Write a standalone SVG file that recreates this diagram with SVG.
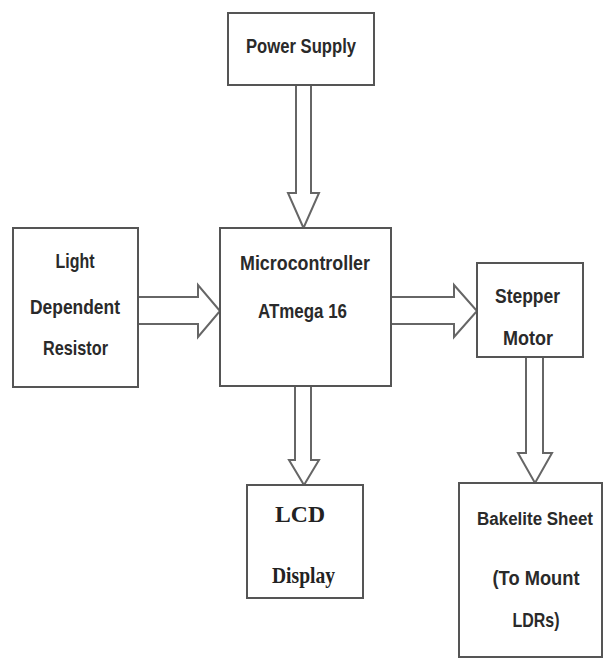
<svg xmlns="http://www.w3.org/2000/svg" width="605" height="659" viewBox="0 0 605 659">
<style>
.box{fill:#fff;stroke:#555;stroke-width:2}
.arr{fill:#fff;stroke:#666;stroke-width:2;stroke-linejoin:miter}
.t{font-family:"Liberation Sans",Arial,sans-serif;font-size:21px;font-weight:bold;fill:#2a2a2a;text-anchor:middle}
.s{font-family:"Liberation Serif","Times New Roman",serif;font-size:24px;font-weight:bold;fill:#222;text-anchor:middle}
</style>
<rect width="605" height="659" fill="#fff"/>
<g id="connectors">
<polygon class="arr" points="296,85 311,85 311,193 319,193 303.5,228 288,193 296,193"/>
<polygon class="arr" points="138,297 198,297 198,285 220,311 198,337 198,324 138,324"/>
<polygon class="arr" points="391,297 454,297 454,285 477,311 454,337 454,324 391,324"/>
<polygon class="arr" points="295,386 311,386 311,460 319,460 304,485 289,460 295,460"/>
<polygon class="arr" points="526,357 543,357 543,453 552,453 535,483 518,453 526,453"/>
</g>
<g id="power">
<rect class="box" x="228" y="13" width="146" height="72"/>
<text class="t" x="301" y="53" textLength="110" lengthAdjust="spacingAndGlyphs">Power Supply</text>
</g>
<g id="ldr">
<rect class="box" x="13" y="228" width="125" height="159"/>
<text class="t" x="75" y="268" textLength="39" lengthAdjust="spacingAndGlyphs">Light</text>
<text class="t" x="75" y="314" textLength="90" lengthAdjust="spacingAndGlyphs">Dependent</text>
<text class="t" x="75.5" y="355" textLength="65" lengthAdjust="spacingAndGlyphs">Resistor</text>
</g>
<g id="mcu">
<rect class="box" x="220" y="228" width="171" height="158"/>
<text class="t" x="305" y="270" textLength="130" lengthAdjust="spacingAndGlyphs">Microcontroller</text>
<text class="t" x="302.5" y="318" textLength="89" lengthAdjust="spacingAndGlyphs">ATmega 16</text>
</g>
<g id="stepper">
<rect class="box" x="477" y="263" width="106" height="94"/>
<text class="t" x="527.5" y="303" textLength="65" lengthAdjust="spacingAndGlyphs">Stepper</text>
<text class="t" x="528" y="345" textLength="50" lengthAdjust="spacingAndGlyphs">Motor</text>
</g>
<g id="lcd">
<rect class="box" x="247" y="485" width="116" height="113"/>
<text class="s" x="300" y="522" textLength="50" lengthAdjust="spacingAndGlyphs">LCD</text>
<text class="s" x="303.5" y="583" textLength="63" lengthAdjust="spacingAndGlyphs">Display</text>
</g>
<g id="bakelite">
<rect class="box" x="459" y="483" width="143" height="174"/>
<text class="t" x="535" y="525" style="font-size:18px" textLength="116" lengthAdjust="spacingAndGlyphs">Bakelite Sheet</text>
<text class="t" x="536" y="585" textLength="87" lengthAdjust="spacingAndGlyphs">(To Mount</text>
<text class="t" x="536" y="627" textLength="47" lengthAdjust="spacingAndGlyphs">LDRs)</text>
</g>
</svg>
